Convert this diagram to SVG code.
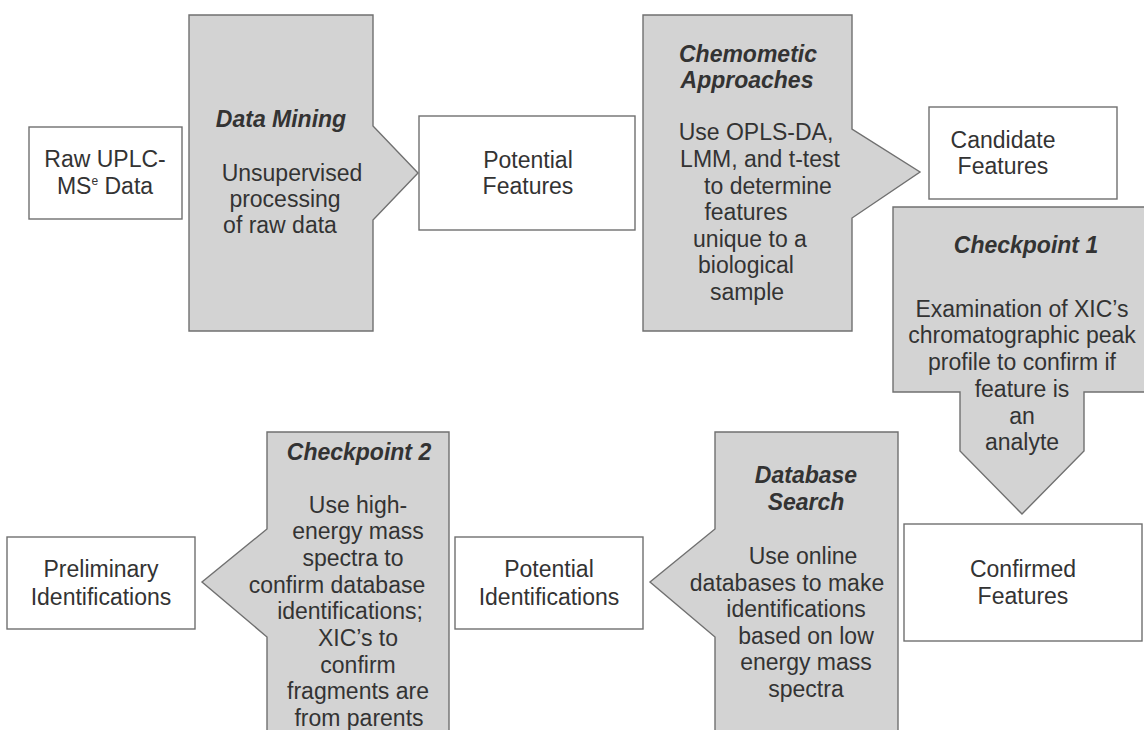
<svg xmlns="http://www.w3.org/2000/svg" width="1144" height="730" viewBox="0 0 1144 730">
<style>
.bg{fill:#ffffff}
.box{fill:#ffffff;stroke:#707070;stroke-width:1.4}
.proc{fill:#d3d3d3;stroke:#707070;stroke-width:1.4;stroke-linejoin:miter}
text{font-family:"Liberation Sans",Arial,Helvetica,sans-serif;font-size:23px;fill:#333333;text-anchor:middle}
.title{font-weight:bold;font-style:italic}
.sup{font-size:12px}
</style>
<rect class="bg" x="0" y="0" width="1144" height="730"/>
<g id="connectors"/>
<g id="raw-data">
<rect class="box" x="29" y="127" width="153" height="92"/>
<text x="105" y="167">Raw UPLC-</text>
<text x="105" y="194">MS<tspan class="sup" dy="-9">e</tspan><tspan dy="9"> Data</tspan></text>
</g>
<g id="data-mining">
<path class="proc" d="M189,15 H373 V126 L418,173 L373,220 V331 H189 Z"/>
<text class="title" x="281" y="127">Data Mining</text>
<text x="292" y="181">Unsupervised</text>
<text x="285" y="207">processing</text>
<text x="280" y="233">of raw data</text>
</g>
<g id="potential-features">
<rect class="box" x="419" y="116" width="216" height="114"/>
<text x="528" y="168">Potential</text>
<text x="528" y="194">Features</text>
</g>
<g id="chemometic">
<path class="proc" d="M643,15 H852 V129 L920,172 L852,218 V331 H643 Z"/>
<text class="title" x="748" y="62">Chemometic</text>
<text class="title" x="747" y="88">Approaches</text>
<text x="756" y="140">Use OPLS-DA,</text>
<text x="760" y="167">LMM, and t-test</text>
<text x="768" y="194">to determine</text>
<text x="746" y="220">features</text>
<text x="750" y="247">unique to a</text>
<text x="746" y="273">biological</text>
<text x="747" y="300">sample</text>
</g>
<g id="candidate-features">
<rect class="box" x="929" y="107" width="188" height="92"/>
<text x="1003" y="148">Candidate</text>
<text x="1003" y="174">Features</text>
</g>
<g id="checkpoint-1">
<path class="proc" d="M893,207 H1152 V392 H1084 V451 L1022,514 L960,451 V392 H893 Z"/>
<text class="title" x="1026" y="253">Checkpoint 1</text>
<text x="1022" y="317">Examination of XIC’s</text>
<text x="1022" y="343">chromatographic peak</text>
<text x="1022" y="370">profile to confirm if</text>
<text x="1022" y="397">feature is</text>
<text x="1022" y="424">an</text>
<text x="1022" y="450">analyte</text>
</g>
<g id="confirmed-features">
<rect class="box" x="904" y="524" width="238" height="117"/>
<text x="1023" y="577">Confirmed</text>
<text x="1023" y="604">Features</text>
</g>
<g id="database-search">
<path class="proc" d="M715,432 H898 V740 H715 V637 L650,582 L715,529 Z"/>
<text class="title" x="806" y="483">Database</text>
<text class="title" x="806" y="510">Search</text>
<text x="803" y="564">Use online</text>
<text x="787" y="591">databases to make</text>
<text x="796" y="617">identifications</text>
<text x="806" y="644">based on low</text>
<text x="806" y="670">energy mass</text>
<text x="806" y="697">spectra</text>
</g>
<g id="potential-identifications">
<rect class="box" x="455" y="537" width="188" height="92"/>
<text x="549" y="577">Potential</text>
<text x="549" y="605">Identifications</text>
</g>
<g id="checkpoint-2">
<path class="proc" d="M267,432 H449 V740 H267 V637 L202,582 L267,529 Z"/>
<text class="title" x="359" y="460">Checkpoint 2</text>
<text x="358" y="513">Use high-</text>
<text x="358" y="539">energy mass</text>
<text x="353" y="566">spectra to</text>
<text x="337" y="593">confirm database</text>
<text x="350" y="619">identifications;</text>
<text x="358" y="646">XIC’s to</text>
<text x="358" y="673">confirm</text>
<text x="358" y="699">fragments are</text>
<text x="359" y="726">from parents</text>
</g>
<g id="preliminary-identifications">
<rect class="box" x="7" y="537" width="188" height="92"/>
<text x="101" y="577">Preliminary</text>
<text x="101" y="605">Identifications</text>
</g>
</svg>
